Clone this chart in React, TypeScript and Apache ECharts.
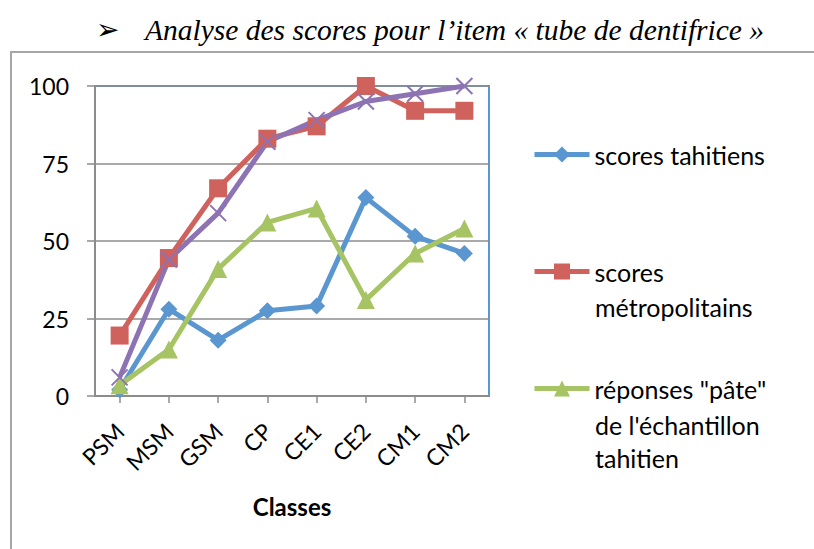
import React, { useEffect, useRef } from "react";
import * as echarts from "echarts";

const categories = ["PSM", "MSM", "GSM", "CP", "CE1", "CE2", "CM1", "CM2"];
const scoresTahitiens = [2, 28, 18, 27.5, 29, 64, 51.5, 46];
const scoresMetropolitains = [19.5, 44.5, 67, 83, 87, 100, 92, 92];
const reponsesPate = [3.5, 15, 41, 56, 60.5, 31, 46, 54];
const quatriemeSerie = [6, 44, 59, 82, 89, 95, 97.5, 100];
const yTicks = [0, 25, 50, 75, 100];

const seriesNames = [
  "scores tahitiens",
  "scores métropolitains",
  "réponses \"pâte\" de l'échantillon tahitien",
];

const FONT = "Lato";
const LEG_SIZE = 25;

export default function App() {
  const ref = useRef<HTMLDivElement>(null);
  useEffect(() => {
    document.body.style.margin = "0";
    const chart = echarts.init(ref.current!, null, { renderer: "svg" });
    const legendBase = {
      orient: "vertical" as const,
      left: 532,
      padding: 0,
      itemWidth: 55,
      itemHeight: 20,
      itemGap: 5,
      lineStyle: { width: 5 },
      textStyle: { fontFamily: FONT, fontSize: LEG_SIZE, color: "#000" },
      selectedMode: false,
    };
    chart.setOption({
      animation: false,
      backgroundColor: "#fff",
      grid: {
        left: 95,
        top: 86,
        right: 325,
        bottom: 153,
        show: true,
        borderColor: "#5A96CF",
        borderWidth: 2,
        backgroundColor: "transparent",
      },
      xAxis: {
        type: "category",
        data: categories,
        boundaryGap: true,
        axisLine: { lineStyle: { color: "#8C8C8C", width: 2 } },
        axisTick: { show: true, alignWithLabel: true, length: 7, lineStyle: { color: "#8C8C8C", width: 1.5 } },
        axisLabel: {
          rotate: 45,
          margin: 31,
          fontFamily: FONT,
          fontSize: 23,
          color: "#000",
          interval: 0,
        },
        name: "Classes",
        nameLocation: "middle",
        nameGap: 98,
        nameTextStyle: { fontFamily: FONT, fontSize: 24, fontWeight: "bold", color: "#000" },
      },
      yAxis: {
        type: "value",
        min: yTicks[0],
        max: yTicks[yTicks.length - 1],
        interval: 25,
        axisLine: { show: true, lineStyle: { color: "#8C8C8C", width: 2 } },
        axisTick: { show: true, length: 8, lineStyle: { color: "#8C8C8C", width: 1.5 } },
        axisLabel: { fontFamily: FONT, fontSize: 23, color: "#000", margin: 26 },
        splitLine: { lineStyle: { color: "#8C8C8C", width: 1.5 } },
      },
      legend: [
        { ...legendBase, top: 142, data: [seriesNames[0]] },
        {
          ...legendBase,
          top: 259,
          data: [seriesNames[1]],
          formatter: () => "scores",
        },
        {
          ...legendBase,
          top: 376,
          data: [seriesNames[2]],
          formatter: () => "réponses \"pâte\"",
        },
      ],
      graphic: [
        {
          type: "rect",
          shape: { x: 11, y: 52, width: 900, height: 700 },
          style: { fill: "none", stroke: "#A6A6A6", lineWidth: 2 },
          silent: true,
        },
        {
          type: "text",
          x: 96,
          y: 29,
          style: {
            text: "➢",
            font: "28px 'DejaVu Sans'",
            fill: "#000",
            verticalAlign: "middle",
          },
        },
        {
          type: "text",
          x: 145,
          y: 30,
          style: {
            text: "Analyse des scores pour l’item « tube de dentifrice »",
            font: "italic 29.5px 'Liberation Serif'",
            fill: "#000",
            verticalAlign: "middle",
          },
        },
        {
          type: "text",
          x: 595,
          y: 307,
          style: { text: "métropolitains", font: `${LEG_SIZE}px ${FONT}`, fill: "#000", verticalAlign: "middle" },
        },
        {
          type: "text",
          x: 595,
          y: 425,
          style: { text: "de l'échantillon", font: `${LEG_SIZE}px ${FONT}`, fill: "#000", verticalAlign: "middle" },
        },
        {
          type: "text",
          x: 595,
          y: 458,
          style: { text: "tahitien", font: `${LEG_SIZE}px ${FONT}`, fill: "#000", verticalAlign: "middle" },
        },
      ],
      series: [
        {
          name: seriesNames[0],
          type: "line",
          data: scoresTahitiens,
          symbol: "diamond",
          symbolSize: 17,
          lineStyle: { color: "#5A96CF", width: 5 },
          itemStyle: { color: "#5A96CF" },
        },
        {
          name: seriesNames[1],
          type: "line",
          data: scoresMetropolitains,
          symbol: "rect",
          symbolSize: 18,
          lineStyle: { color: "#CF625C", width: 5 },
          itemStyle: { color: "#CF625C" },
        },
        {
          name: seriesNames[2],
          type: "line",
          data: reponsesPate,
          symbol: "triangle",
          symbolSize: 18,
          lineStyle: { color: "#A6C463", width: 5 },
          itemStyle: { color: "#A6C463" },
        },
        {
          name: "série 4",
          type: "line",
          data: quatriemeSerie,
          symbol: "path://M0,0L10,10M10,0L0,10",
          symbolSize: 16,
          lineStyle: { color: "#8D73B3", width: 5 },
          itemStyle: { color: "none", borderColor: "#8D73B3", borderWidth: 2 },
        },
      ],
    });
    return () => chart.dispose();
  }, []);
  return <div ref={ref} style={{ width: 814, height: 549 }} />;
}
